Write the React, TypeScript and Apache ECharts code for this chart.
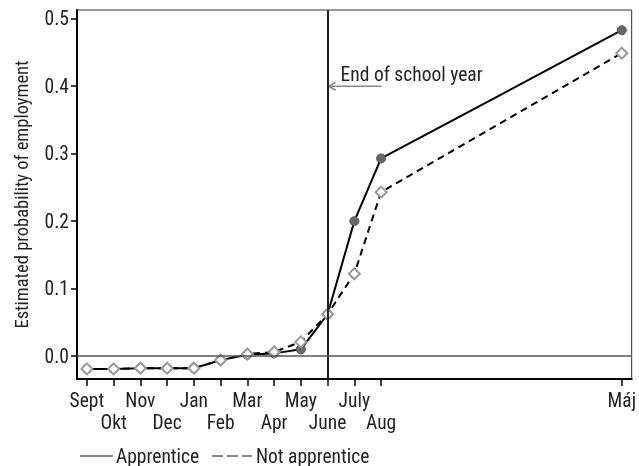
import React, { useEffect, useRef } from "react";
import * as echarts from "echarts";

const months = ["Sept", "Okt", "Nov", "Dec", "Jan", "Feb", "Mar", "Apr", "May", "June", "July", "Aug", "Máj"];
const positions = [0, 1, 2, 3, 4, 5, 6, 7, 8, 9, 10, 11, 20];
const apprentice = [-0.019, -0.019, -0.018, -0.018, -0.018, -0.006, 0.002, 0.004, 0.01, 0.062, 0.2, 0.293, 0.483];
const notApprentice = [-0.019, -0.019, -0.018, -0.018, -0.018, -0.006, 0.003, 0.006, 0.021, 0.062, 0.122, 0.243, 0.449];
const yTicks = [0, 0.1, 0.2, 0.3, 0.4, 0.5];
const schoolEnd = 9;
const annotationY = 0.4;

const FONT = "'Roboto Condensed', 'DejaVu Sans Condensed', sans-serif";
const FS = 19.5;

export default function App() {
  const ref = useRef<HTMLDivElement>(null);
  useEffect(() => {
    if (!ref.current) return;
    const chart = echarts.init(ref.current, undefined, { renderer: "svg" });
    const upperRow = positions.filter((p, i) => i % 2 === 0);
    const lowerRow = positions.filter((p, i) => i % 2 === 1);
    const labelOf = (v: number) => {
      const i = positions.indexOf(Math.round(v));
      return i < 0 ? "" : months[i];
    };
    const baseX = {
      type: "value",
      min: -0.37,
      max: 20.37,
      position: "bottom",
      splitLine: { show: false },
    };
    chart.setOption({
      animation: false,
      textStyle: { fontFamily: FONT },
      grid: { left: 77, right: 4, top: 10, bottom: 87, show: true, borderColor: "#333", borderWidth: 1 },
      xAxis: [
        {
          ...baseX,
          axisLine: { show: true, onZero: false, lineStyle: { color: "#000", width: 2 } },
          axisTick: { show: true, customValues: positions, length: 7, lineStyle: { color: "#000", width: 1.5 } },
          axisLabel: {
            customValues: upperRow,
            showMinLabel: true,
            showMaxLabel: true,
            formatter: (v: number) => labelOf(v),
            color: "#222",
            fontSize: FS,
            fontFamily: FONT,
            margin: 11,
          },
        },
        {
          ...baseX,
          axisLine: { show: false, onZero: false },
          axisTick: { show: false },
          axisLabel: {
            customValues: lowerRow,
            showMinLabel: true,
            showMaxLabel: true,
            formatter: (v: number) => labelOf(v),
            color: "#222",
            fontSize: FS,
            fontFamily: FONT,
            margin: 33,
          },
        },
      ],
      yAxis: {
        type: "value",
        min: -0.034,
        max: 0.513,
        splitLine: { show: false },
        axisLine: { show: true, onZero: false, lineStyle: { color: "#000", width: 2 } },
        axisTick: { show: true, customValues: yTicks, length: 6, lineStyle: { color: "#000", width: 1.5 } },
        axisLabel: {
          customValues: yTicks,
          showMinLabel: true,
          showMaxLabel: true,
          formatter: (v: number) => v.toFixed(1),
          color: "#222",
          fontSize: FS,
          fontFamily: FONT,
          margin: 8,
        },
        name: "Estimated probability of employment",
        nameLocation: "middle",
        nameGap: 46,
        nameTextStyle: { fontSize: 18.5, color: "#222", fontFamily: FONT },
      },
      series: [
        {
          name: "Apprentice",
          type: "line",
          data: positions.map((p, i) => [p, apprentice[i]]),
          lineStyle: { color: "#000", width: 2 },
          symbol: "circle",
          symbolSize: 9,
          itemStyle: { color: "#666", borderColor: "#555", borderWidth: 1 },
          z: 3,
          markLine: {
            silent: true,
            symbol: ["none", "none"],
            label: { show: false },
            data: [
              { xAxis: schoolEnd, lineStyle: { color: "#222", width: 2, type: "solid" } },
              { yAxis: 0, lineStyle: { color: "#555", width: 1.5, type: "solid" } },
            ],
          },
        },
        {
          name: "Not apprentice",
          type: "line",
          data: positions.map((p, i) => [p, notApprentice[i]]),
          lineStyle: { color: "#000", width: 2, type: [7, 5] },
          symbol: "diamond",
          symbolSize: 11,
          itemStyle: { color: "#fff", borderColor: "#999", borderWidth: 2 },
          z: 4,
        },
      ],
    });

    const tip = chart.convertToPixel({ gridIndex: 0 }, [schoolEnd, annotationY]) as number[];
    const tx = tip[0] + 1;
    const ty = tip[1];
    chart.setOption({
      graphic: [
        { type: "line", shape: { x1: tx, y1: ty, x2: tx + 53, y2: ty }, style: { stroke: "#888", lineWidth: 1.5 } },
        { type: "polyline", shape: { points: [[tx + 7, ty - 4], [tx, ty], [tx + 7, ty + 4]] }, style: { stroke: "#888", fill: "none", lineWidth: 1.5 } },
        { type: "text", x: tx + 12, y: ty - 12, style: { text: "End of school year", font: `${FS}px ${FONT}`, fill: "#222", verticalAlign: "middle", align: "left" } },
        { type: "line", shape: { x1: 80, y1: 456, x2: 113, y2: 456 }, style: { stroke: "#111", lineWidth: 1 } },
        { type: "text", x: 116, y: 456, style: { text: "Apprentice", font: `${FS}px ${FONT}`, fill: "#222", verticalAlign: "middle" } },
        { type: "line", shape: { x1: 212, y1: 456, x2: 252, y2: 456 }, style: { stroke: "#111", lineWidth: 1, lineDash: [11, 4] } },
        { type: "text", x: 256, y: 456, style: { text: "Not apprentice", font: `${FS}px ${FONT}`, fill: "#222", verticalAlign: "middle" } },
      ],
    });
    return () => chart.dispose();
  }, []);
  return <div ref={ref} style={{ width: 639, height: 466, position: "fixed", left: 0, top: 0 }} />;
}
